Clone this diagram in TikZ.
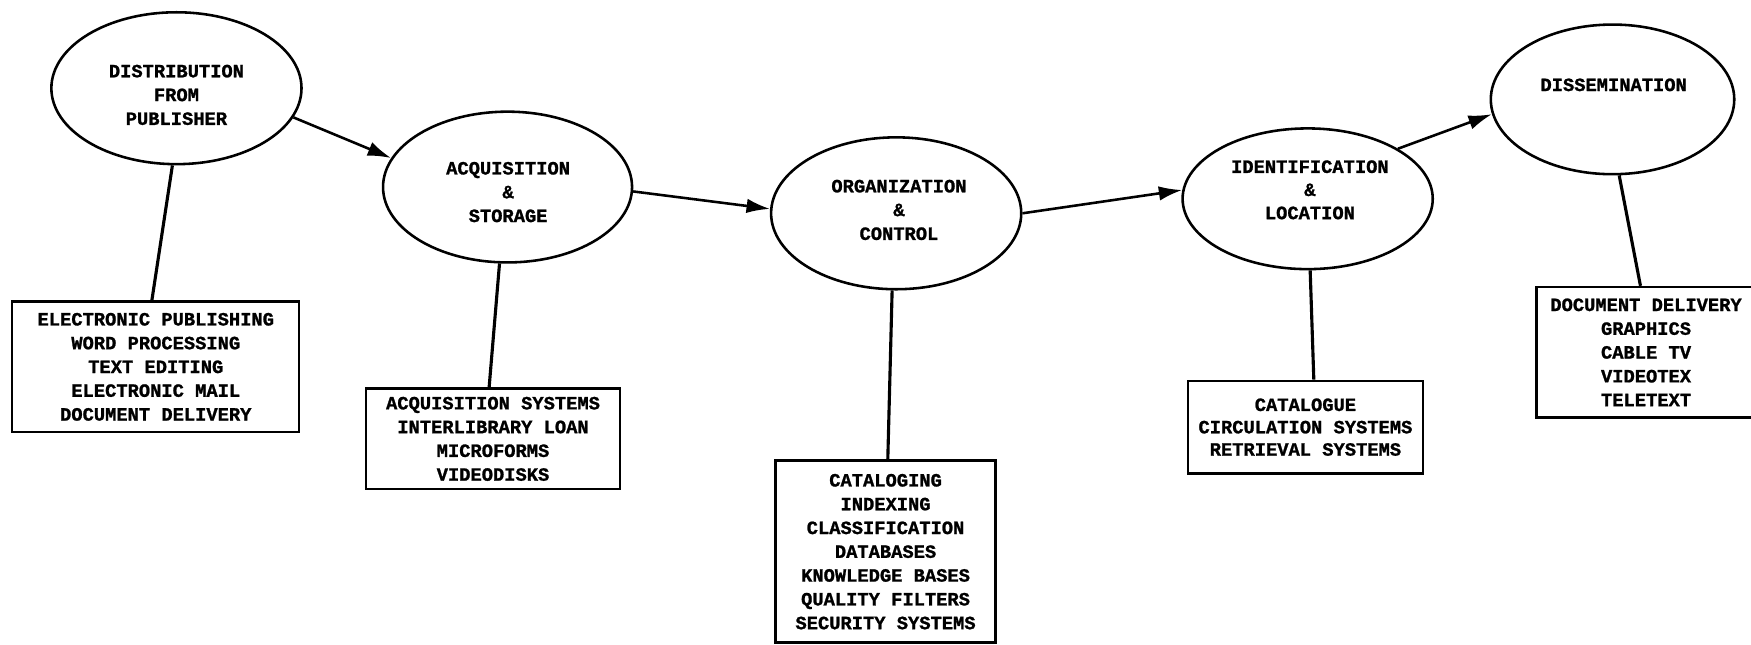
\documentclass[tikz,border=0pt]{standalone}
\usepackage{fontspec}
\setmonofont{Liberation Mono}[BoldFeatures={FakeBold=1.2}]
\usetikzlibrary{shapes.geometric,arrows.meta,calc}
\tikzset{
  every node/.style={font=\fontsize{16.8}{21.3}\selectfont\ttfamily\bfseries},
  oval/.style={ellipse, draw, line width=2.3pt, inner sep=0pt},
  lbl/.style={align=center, inner sep=0pt},
  listbox/.style={rectangle, draw, line width=2.1pt, align=center, inner sep=0pt},
  flow/.style={line width=2.3pt, -{Latex[length=21pt,width=13pt]}},
  tie/.style={line width=2.8pt},
}
\begin{document}
\begin{tikzpicture}[x=1pt,y=-1pt]
\useasboundingbox (0,0) rectangle (1568,577);
\clip (0,0) rectangle (1568,577);
% ellipses
\node[oval, minimum width=224pt, minimum height=136pt] (e1) at (158,79) {};
\node[lbl] (t1) at (158,85) {DISTRIBUTION\\FROM\\PUBLISHER};
\node[oval, minimum width=223pt, minimum height=135pt] (e2) at (454.5,167.5) {};
\node[lbl] (t2) at (455,172) {ACQUISITION\\\&\\STORAGE};
\node[oval, minimum width=224pt, minimum height=136pt] (e3) at (802.5,191) {};
\node[lbl] (t3) at (805,188) {ORGANIZATION\\\&\\CONTROL};
\node[oval, minimum width=224pt, minimum height=126pt] (e4) at (1171,178) {};
\node[lbl, font=\fontsize{16.8}{20.7}\selectfont\ttfamily\bfseries] (t4) at (1173,170) {IDENTIFICATION\\\&\\LOCATION};
\node[oval, minimum width=218pt, minimum height=134pt] (e5) at (1444,89) {};
\node[lbl] (t5) at (1445,76) {DISSEMINATION};
% boxes
\node[listbox, minimum width=257pt, minimum height=117pt] (b1) at (139.5,328.5)
  {ELECTRONIC PUBLISHING\\WORD PROCESSING\\TEXT EDITING\\ELECTRONIC MAIL\\DOCUMENT DELIVERY};
\node[listbox, minimum width=227pt, minimum height=90pt] (b2) at (441.5,393)
  {ACQUISITION SYSTEMS\\INTERLIBRARY LOAN\\MICROFORMS\\VIDEODISKS};
\node[listbox, minimum width=197pt, minimum height=163pt] (b3) at (793,494)
  {CATALOGING\\INDEXING\\CLASSIFICATION\\DATABASES\\KNOWLEDGE BASES\\QUALITY FILTERS\\SECURITY SYSTEMS};
\node[listbox, minimum width=210pt, minimum height=83pt, font=\fontsize{16.8}{20}\selectfont\ttfamily\bfseries] (b4) at (1169,382.5)
  {CATALOGUE\\CIRCULATION SYSTEMS\\RETRIEVAL SYSTEMS};
\node[listbox, minimum width=196pt, minimum height=117pt] (b5) at (1474,315.5)
  {DOCUMENT DELIVERY\\GRAPHICS\\CABLE TV\\VIDEOTEX\\TELETEXT};
% flow arrows
\draw[flow] (e1.-14) -- (e2.166);
\draw[flow] (e2.-2) -- (e3.178.5);
\draw[flow] (e3.0) -- (e4.176);
\draw[flow] (e4.29) -- (e5.187);
% ties
\draw[tie] (e1.-93) -- ($(b1.north)+(-3.5,0)$);
\draw[tie] (e2.-96) -- ($(b2.north)+(-3.5,0)$);
\draw[tie] (e3.-93) -- ($(b3.north)+(2,0)$);
\draw[tie] (e4.-88) -- ($(b4.north)+(7.5,0)$);
\draw[tie] (e5.-85) -- ($(b5.north)+(-5,0)$);
\end{tikzpicture}
\end{document}
